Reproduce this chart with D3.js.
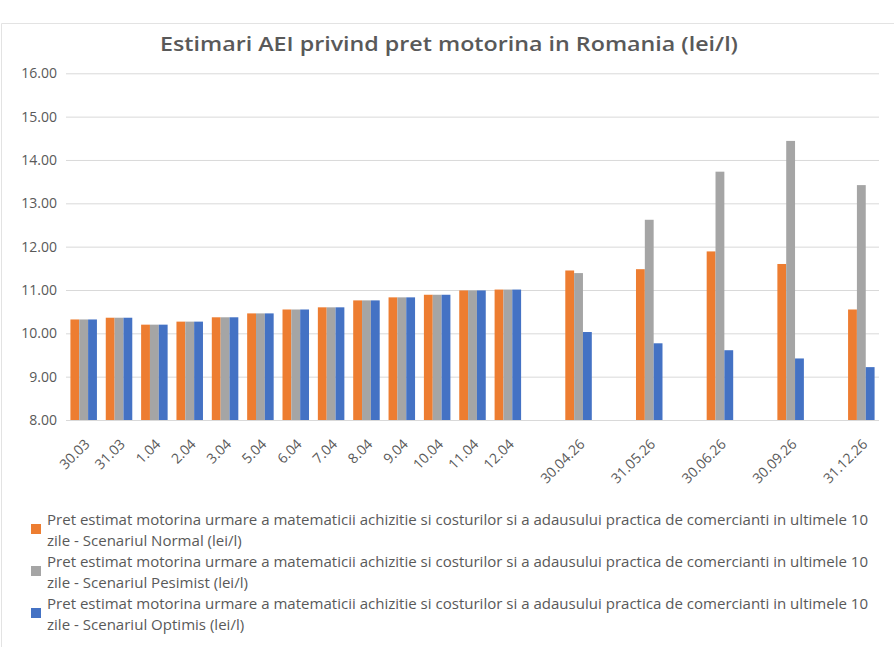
<!DOCTYPE html>
<html>
<head>
<meta charset="utf-8">
<script src="https://cdn.jsdelivr.net/npm/d3@7"></script>
<style>
  html, body { margin: 0; padding: 0; background: #fff; }
  svg { display: block; }
</style>
</head>
<body>
<svg id="chart" width="894" height="647"></svg>
<script>
// ---- data ----
const chartTitle = "Estimari AEI privind pret motorina in Romania (lei/l)";
const categories = ["30.03","31.03","1.04","2.04","3.04","5.04","6.04","7.04","8.04","9.04","10.04","11.04","12.04",
  "","30.04.26","","31.05.26","","30.06.26","","30.09.26","","31.12.26"];
const normalValues   = [10.32,10.36,10.20,10.27,10.37,10.46,10.55,10.60,10.76,10.83,10.89,10.99,11.01,
  null,11.45,null,11.48,null,11.89,null,11.60,null,10.55];
const pesimistValues = [10.32,10.36,10.20,10.27,10.37,10.46,10.55,10.60,10.76,10.83,10.89,10.99,11.01,
  null,11.39,null,12.62,null,13.73,null,14.44,null,13.42];
const optimistValues = [10.32,10.36,10.20,10.27,10.37,10.46,10.55,10.60,10.76,10.83,10.89,10.99,11.01,
  null,10.03,null,9.77,null,9.61,null,9.42,null,9.22];
const yTickValues = [8,9,10,11,12,13,14,15,16];
const legendLine1 = "Pret estimat motorina urmare a matematicii achizitie si costurilor si a adausului practica de comercianti in ultimele 10";
const legendLine2 = ["zile - Scenariul Normal (lei/l)", "zile - Scenariul Pesimist (lei/l)", "zile - Scenariul Optimis (lei/l)"];

// ---- layout ----
const colors = ["#ED7D31", "#A5A5A5", "#4472C4"];
const series = [normalValues, pesimistValues, optimistValues];
const textColor = "#595959";
const fontFam = "'Open Sans', 'Noto Sans', sans-serif";
const plotLeft = 66, plotRight = 879, plotTop = 73.3, plotBottom = 420;

const svg = d3.select("#chart");

// chart frame (top and left edges visible)
svg.append("line").attr("x1", 1.5).attr("x2", 894).attr("y1", 23.5).attr("y2", 23.5)
  .attr("stroke", "#e3e3e3");
svg.append("line").attr("x1", 1.5).attr("x2", 1.5).attr("y1", 23.5).attr("y2", 647)
  .attr("stroke", "#e3e3e3");

// title
svg.append("text")
  .attr("x", 449).attr("y", 51)
  .attr("text-anchor", "middle")
  .attr("font-family", fontFam).attr("font-weight", 600).attr("font-size", 20)
  .attr("fill", textColor)
  .attr("textLength", 578).attr("lengthAdjust", "spacingAndGlyphs")
  .text(chartTitle);

// scales
const x = d3.scaleBand().domain(d3.range(categories.length))
  .range([plotLeft, plotRight]).paddingInner(0.25).paddingOuter(0.125);
const xs = d3.scaleBand().domain(d3.range(series.length)).range([0, x.bandwidth()]);
const y = d3.scaleLinear().domain([8, 16]).range([plotBottom, plotTop]);

// y axis + gridlines
const yAxis = svg.append("g").attr("transform", `translate(${plotLeft},0)`)
  .call(d3.axisLeft(y).tickValues(yTickValues).tickFormat(d3.format(".2f"))
    .tickSize(-(plotRight - plotLeft)).tickPadding(9));
yAxis.select(".domain").remove();
yAxis.selectAll(".tick line").attr("stroke", "#d9d9d9").attr("stroke-width", 1);
yAxis.selectAll(".tick text").attr("fill", textColor)
  .attr("font-family", fontFam).attr("font-size", 14);

// bars
series.forEach((vals, si) => {
  svg.append("g").selectAll("rect")
    .data(vals.map((v, i) => ({ v, i })).filter(d => d.v != null))
    .join("rect")
    .attr("x", d => x(d.i) + xs(si))
    .attr("width", xs.bandwidth())
    .attr("y", d => y(d.v))
    .attr("height", d => y(8) - y(d.v))
    .attr("fill", colors[si]);
});

// x axis labels
const xAxis = svg.append("g").attr("transform", `translate(0,${plotBottom})`)
  .call(d3.axisBottom(x).tickFormat(i => categories[i]).tickSize(0));
xAxis.select(".domain").remove();
xAxis.selectAll(".tick text")
  .attr("x", 0).attr("y", 0).attr("dy", 0)
  .attr("text-anchor", "end")
  .attr("transform", "translate(7,25) rotate(-45)")
  .attr("fill", textColor)
  .attr("font-family", fontFam).attr("font-size", 14);

// legend
const legendTop = 525, itemGap = 42, lineGap = 21;
const lg = svg.append("g");
series.forEach((vals, si) => {
  const by = legendTop + si * itemGap;
  lg.append("rect").attr("x", 31).attr("y", by - 1).attr("width", 10).attr("height", 10)
    .attr("fill", colors[si]);
  const t1 = lg.append("text").attr("x", 47).attr("y", by)
    .attr("font-family", fontFam).attr("font-size", 14).attr("fill", textColor)
    .text(legendLine1);
  const t2 = lg.append("text").attr("x", 47).attr("y", by + lineGap)
    .attr("font-family", fontFam).attr("font-size", 14).attr("fill", textColor)
    .text(legendLine2[si]);
  const n1 = t1.node().getComputedTextLength();
  const ratio = 821 / n1;
  t1.attr("textLength", 821).attr("lengthAdjust", "spacingAndGlyphs");
  t2.attr("textLength", t2.node().getComputedTextLength() * ratio).attr("lengthAdjust", "spacingAndGlyphs");
});
</script>
</body>
</html>
